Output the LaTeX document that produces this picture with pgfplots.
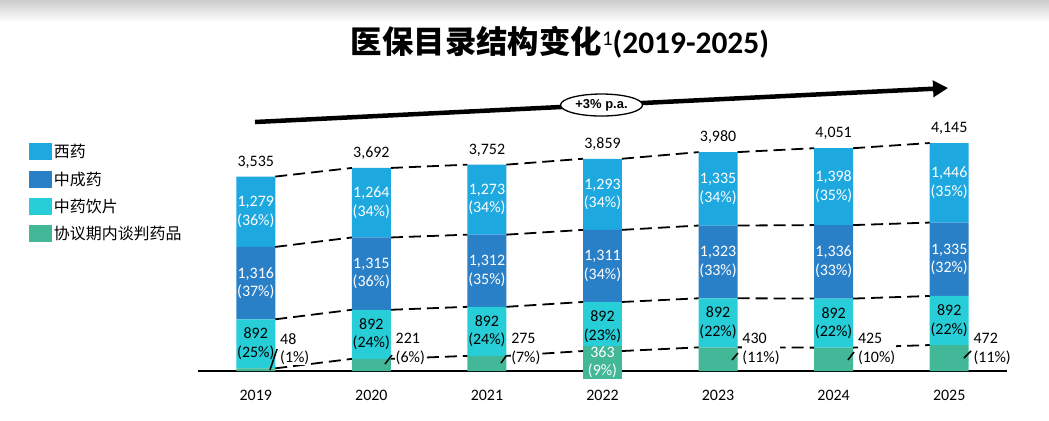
\documentclass[border=0pt]{standalone}
\usepackage{pgfplots}
\pgfplotsset{compat=1.18}
\usepackage{pgfplotstable}
\usepackage{fontspec}
\setmainfont{Carlito}
\newfontfamily\cjk{Noto Sans CJK SC}
\newfontfamily\arialb{Liberation Sans}
\usetikzlibrary{arrows.meta,shapes.geometric}
\definecolor{cLB}{HTML}{1EA8E0}
\definecolor{cB}{HTML}{2A80C6}
\definecolor{cC}{HTML}{27CED8}
\definecolor{cG}{HTML}{43B898}
\newcommand\lab{\fontsize{16}{18.5}\selectfont}

\pgfplotstableread{
i g c b lb t
0 48 892 1316 1279 3535
1 221 892 1315 1264 3692
2 275 892 1312 1273 3752
3 363 892 1311 1293 3859
4 430 892 1323 1335 3980
5 425 892 1336 1398 4051
6 472 892 1335 1446 4145
}\data

\pgfplotsset{base/.style={scale only axis, width=809bp, height=231bp,
  xmin=-0.5, xmax=6.5, ymin=0, ymax=4200, clip=false}}

\begin{document}
\begin{tikzpicture}
\shade[top color=black!20, bottom color=white] (-198bp,349bp) rectangle (851bp,371bp);

\begin{axis}[base, ybar stacked, bar width=0.337,
  axis x line*=bottom, axis y line=none,
  x axis line style={line width=1.5bp},
  xtick={0,...,6}, xticklabels={2019,2020,2021,2022,2023,2024,2025},
  major tick length=0pt,
  xticklabel style={font=\fontsize{16}{16}\selectfont, yshift=-16bp},
  reverse legend,
  legend cell align=left,
  legend style={draw=none, fill=none, inner sep=0pt, outer sep=0pt,
    at={(-0.2089,0.99)}, anchor=north west, row sep=8.5bp,
    font=\cjk\fontsize{16}{16}\selectfont,
    /tikz/every even column/.append style={column sep=4bp}},
  every axis plot post/.append style={legend image code/.code={\fill[##1] (0bp,-8.5bp) rectangle (23bp,8.5bp);}}
]
\addplot[fill=cG, draw=none] table[x=i,y=g]{\data};
\addplot[fill=cC, draw=none] table[x=i,y=c]{\data};
\addplot[fill=cB, draw=none] table[x=i,y=b]{\data};
\addplot[fill=cLB, draw=none] table[x=i,y=lb]{\data};
\legend{协议期内谈判药品,中药饮片,中成药,西药}
\end{axis}

\begin{axis}[base, axis lines=none, xtick=\empty, ytick=\empty, unbounded coords=jump]
% 2022 green box (drawn lower than the axis in the original)
\addplot[fill=cG, draw=none] coordinates {(2.8315,-145) (3.1685,-145) (3.1685,460) (2.8315,460)};
% dashed connectors
\addplot[black, line width=1.8bp, dash pattern=on 12bp off 6bp] coordinates {
(0.1685,3535)(0.8315,3692)(1,nan)(1.1685,3692)(1.8315,3752)(2,nan)(2.1685,3752)(2.8315,3859)(3,nan)
(3.1685,3859)(3.8315,3980)(4,nan)(4.1685,3980)(4.8315,4051)(5,nan)(5.1685,4051)(5.8315,4145)};
\addplot[black, line width=1.8bp, dash pattern=on 12bp off 6bp] coordinates {
(0.1685,2256)(0.8315,2428)(1,nan)(1.1685,2428)(1.8315,2479)(2,nan)(2.1685,2479)(2.8315,2566)(3,nan)
(3.1685,2566)(3.8315,2645)(4,nan)(4.1685,2645)(4.8315,2653)(5,nan)(5.1685,2653)(5.8315,2699)};
\addplot[black, line width=1.8bp, dash pattern=on 12bp off 6bp] coordinates {
(0.1685,940)(0.8315,1113)(1,nan)(1.1685,1113)(1.8315,1167)(2,nan)(2.1685,1167)(2.8315,1255)(3,nan)
(3.1685,1255)(3.8315,1322)(4,nan)(4.1685,1322)(4.8315,1317)(5,nan)(5.1685,1317)(5.8315,1364)};
\addplot[black, line width=1.8bp, dash pattern=on 12bp off 6bp] coordinates {
(0.1685,48)(0.8315,221)(1,nan)(1.1685,221)(1.8315,275)(2,nan)(2.1685,275)(2.8315,363)(3,nan)
(3.1685,363)(3.8315,430)(4,nan)(4.1685,430)(4.8315,425)(5,nan)(5.1685,425)(5.8315,472)};
% leader slashes
\addplot[black, line width=1.5bp] coordinates {
(0.123,18)(0.184,400)(0.5,nan)(1.118,127)(1.179,291)(1.5,nan)(2.122,145)(2.168,280)(3.5,nan)
(4.121,200)(4.172,327)(4.5,nan)(5.124,200)(5.176,345)(5.5,nan)(6.128,236)(6.189,364)};
% labels: 西药
\addplot[draw=none, nodes near coords, point meta=explicit symbolic,
  every node near coord/.append style={anchor=center, align=center, text=white, font=\lab}]
coordinates {(0,2895.5)[1,279\\(36\%)] (1,3060)[1,264\\(34\%)] (2,3115.5)[1,273\\(34\%)]
(3,3212.5)[1,293\\(34\%)] (4,3312.5)[1,335\\(34\%)] (5,3352)[1,398\\(35\%)] (6,3422)[1,446\\(35\%)]};
% 中成药
\addplot[draw=none, nodes near coords, point meta=explicit symbolic,
  every node near coord/.append style={anchor=center, align=center, text=white, font=\lab}]
coordinates {(0,1598)[1,316\\(37\%)] (1,1770.5)[1,315\\(36\%)] (2,1823)[1,312\\(35\%)]
(3,1910.5)[1,311\\(34\%)] (4,1983.5)[1,323\\(33\%)] (5,1985)[1,336\\(33\%)] (6,2031.5)[1,335\\(32\%)]};
% 中药饮片
\addplot[draw=none, nodes near coords, point meta=explicit symbolic,
  every node near coord/.append style={anchor=center, align=center, text=black, font=\lab}]
coordinates {(0,494)[892\\(25\%)] (1,667)[892\\(24\%)] (2,721)[892\\(24\%)]
(3,809)[892\\(23\%)] (4,876)[892\\(22\%)] (5,871)[892\\(22\%)] (6,918)[892\\(22\%)]};
% 协议期内谈判药品 (outside)
\addplot[draw=none, nodes near coords, point meta=explicit symbolic,
  every node near coord/.append style={anchor=west, align=left, text=black, fill=white, inner sep=0.5bp, font=\lab}]
coordinates {(0.205,400)[48\\(1\%)] (1.205,400)[221\\(6\%)] (2.205,400)[275\\(7\%)]
(4.205,400)[430\\(11\%)] (5.205,400)[425\\(10\%)] (6.205,400)[472\\(11\%)]};
\addplot[draw=none, nodes near coords, point meta=explicit symbolic,
  every node near coord/.append style={anchor=center, align=center, text=white, font=\lab}]
coordinates {(3,160)[363\\(9\%)]};
% totals
\addplot[draw=none, nodes near coords, point meta=explicit symbolic,
  every node near coord/.append style={anchor=base, text=black, font=\lab}]
coordinates {(0,3725)[3,535] (1,3882)[3,692] (2,3942)[3,752] (3,4049)[3,859]
(4,4170)[3,980] (5,4241)[4,051] (6,4335)[4,145]};
% growth arrow
\addplot[line width=4.5bp, -{Triangle[length=15bp,width=16bp]}] coordinates {(-0.007,4527) (5.990,5145)}
  node[pos=0.5, ellipse, draw, fill=white, line width=1.3bp, minimum width=82bp, minimum height=22bp,
       inner sep=0pt, font=\arialb\bfseries\fontsize{13}{13}\selectfont] {+3\% p.a.};
\end{axis}

\node[font=\fontsize{31.5}{31.5}\selectfont] at (362bp,329bp)
  {{\cjk\bfseries 医保目录结构变化}\raisebox{8bp}{\fontsize{21}{21}\selectfont 1}{\bfseries(2019-2025)}};

\pgfresetboundingbox
\useasboundingbox (-198bp,-50bp) rectangle (851bp,371bp);
\end{tikzpicture}
\end{document}
